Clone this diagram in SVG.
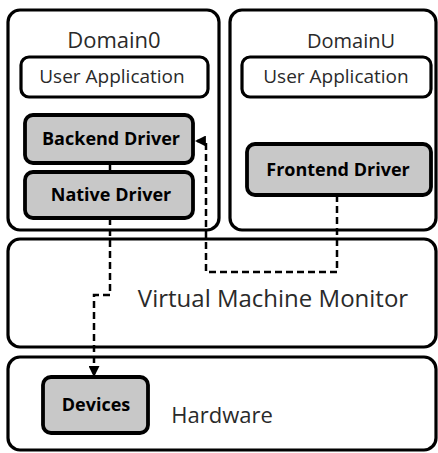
<svg xmlns="http://www.w3.org/2000/svg" width="438" height="453" viewBox="0 0 438 453">
  <style>
    .frame { fill: #ffffff; stroke: #000000; stroke-width: 3.2; }
    .app { fill: #ffffff; stroke: #000000; stroke-width: 3.2; }
    .drv { fill: #c8c8c8; stroke: #000000; stroke-width: 3.8; }
    .title { font-family: "Open Sans", "Noto Sans", sans-serif; font-size: 22px; fill: #2a2a2a; }
    .label { font-family: "Open Sans", "Noto Sans", sans-serif; font-size: 19px; fill: #2a2a2a; }
    .bold { font-family: "Open Sans", "Noto Sans", sans-serif; font-size: 18px; font-weight: bold; fill: #000000; }
    .link { fill: none; stroke: #000000; stroke-width: 2.5; }
    .dash { stroke-dasharray: 7 4; }
  </style>
  <defs>
    <marker id="arrow" viewBox="0 0 10 10" refX="9" refY="5" markerWidth="4.4" markerHeight="4.4" orient="auto" markerUnits="strokeWidth">
      <path d="M0,0 L10,5 L0,10 Z" fill="#000000"/>
    </marker>
  </defs>

  <rect width="438" height="453" fill="#ffffff"/>

  <!-- guest domains -->
  <g id="domain0">
    <rect class="frame" x="8" y="10" width="211" height="220" rx="12"/>
    <text class="title" x="114" y="48" text-anchor="middle">Domain0</text>
  </g>
  <g id="domainU">
    <rect class="frame" x="230" y="10" width="206" height="220" rx="12"/>
    <text class="title" x="351" y="48" text-anchor="middle" style="font-size:20px">DomainU</text>
  </g>

  <g id="app0">
    <rect class="app" x="21" y="57" width="187" height="40" rx="8"/>
    <text class="label" x="112" y="83" text-anchor="middle">User Application</text>
  </g>
  <g id="appU">
    <rect class="app" x="242" y="57" width="189" height="40" rx="8"/>
    <text class="label" x="336" y="83" text-anchor="middle">User Application</text>
  </g>

  <g id="backend">
    <rect class="drv" x="25" y="115" width="168" height="48" rx="8"/>
    <text class="bold" x="111" y="145" text-anchor="middle">Backend Driver</text>
  </g>
  <g id="native">
    <rect class="drv" x="25" y="172" width="168" height="46" rx="8"/>
    <text class="bold" x="111" y="201" text-anchor="middle">Native Driver</text>
  </g>
  <g id="frontend">
    <rect class="drv" x="247" y="144" width="184" height="51" rx="8"/>
    <text class="bold" x="338" y="176" text-anchor="middle">Frontend Driver</text>
  </g>

  <!-- hypervisor and hardware layers -->
  <g id="vmm">
    <rect class="frame" x="8" y="239" width="428" height="108" rx="12"/>
    <text class="title" x="273" y="307" text-anchor="middle" style="font-size:24px">Virtual Machine Monitor</text>
  </g>
  <g id="hardware">
    <rect class="frame" x="8" y="357" width="428" height="93" rx="12"/>
    <text class="title" x="222" y="423" text-anchor="middle">Hardware</text>
  </g>
  <g id="devices">
    <rect class="drv" x="43" y="377" width="105" height="56" rx="8"/>
    <text class="bold" x="96" y="411" text-anchor="middle">Devices</text>
  </g>

  <!-- connectors -->
  <g id="connectors">
    <line class="link" x1="110" y1="163" x2="110" y2="172"/>
    <path class="link dash" d="M110,218 V295 H94 V376" marker-end="url(#arrow)"/>
    <path class="link dash" d="M337,195 V272 H206 V141 H196" marker-end="url(#arrow)"/>
  </g>
</svg>
